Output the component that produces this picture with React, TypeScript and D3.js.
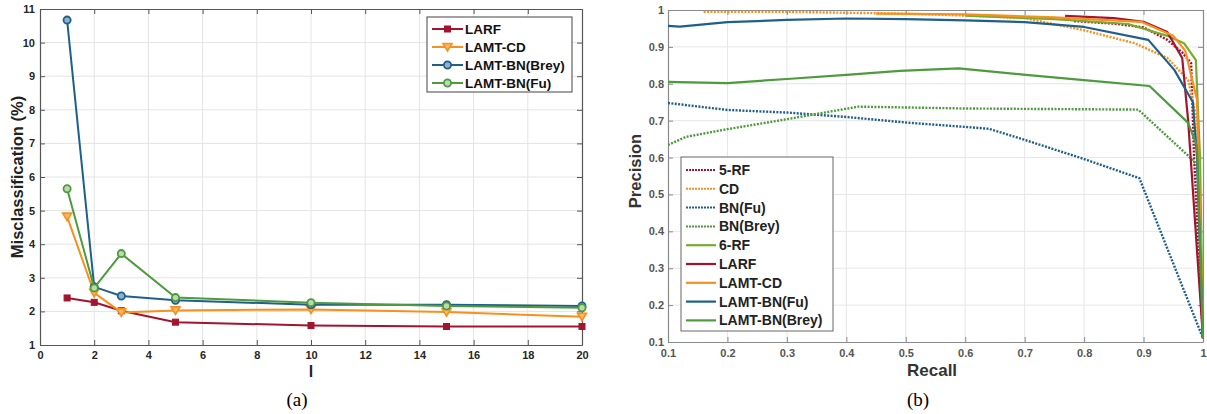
import { useEffect, useRef } from 'react';
import * as d3 from 'd3';

// ---- panel (a): misclassification vs l ----
const lValues = [1, 2, 3, 5, 10, 15, 20];
const larfMis = [2.4, 2.27, 2.02, 1.68, 1.58, 1.55, 1.55];
const lamtCdMis = [4.82, 2.55, 1.97, 2.03, 2.06, 1.98, 1.84];
const lamtBreyMis = [10.67, 2.73, 2.46, 2.33, 2.2, 2.2, 2.16];
const lamtFuMis = [5.65, 2.7, 3.72, 2.41, 2.26, 2.16, 2.11];
const leftNames = ['LARF', 'LAMT-CD', 'LAMT-BN(Brey)', 'LAMT-BN(Fu)'];
const leftXTicks = [0, 2, 4, 6, 8, 10, 12, 14, 16, 18, 20];
const leftYTicks = [1, 2, 3, 4, 5, 6, 7, 8, 9, 10, 11];

// ---- panel (b): precision vs recall ----
const rf5Recall = [0.783, 0.85, 0.9, 0.94, 0.965, 0.98, 0.985, 1.0];
const rf5Prec = [0.97, 0.963, 0.953, 0.919, 0.885, 0.856, 0.6, 0.11];
const cdRecall = [0.16, 0.3, 0.5, 0.6, 0.7, 0.8, 0.885, 0.94, 0.975, 0.99, 1.0];
const cdPrec = [0.995, 0.995, 0.99, 0.985, 0.978, 0.945, 0.91, 0.87, 0.81, 0.7, 0.11];
const bnFuRecall = [0.1, 0.2, 0.3, 0.4, 0.5, 0.6, 0.64, 0.7, 0.8, 0.893, 1.0];
const bnFuPrec = [0.748, 0.729, 0.722, 0.71, 0.695, 0.683, 0.678, 0.648, 0.596, 0.544, 0.11];
const bnBreyRecall = [0.1, 0.13, 0.2, 0.3, 0.42, 0.6, 0.891, 0.975, 0.99, 1.0];
const bnBreyPrec = [0.634, 0.656, 0.677, 0.704, 0.738, 0.733, 0.73, 0.605, 0.58, 0.11];
const rf6Recall = [0.6, 0.75, 0.874, 0.94, 0.968, 0.988, 0.995, 1.0];
const rf6Prec = [0.985, 0.975, 0.962, 0.93, 0.91, 0.864, 0.6, 0.11];
const larfRecall = [0.768, 0.85, 0.9, 0.94, 0.965, 0.975, 1.0];
const larfPrec = [0.984, 0.978, 0.968, 0.94, 0.87, 0.7, 0.11];
const lamtCdRecall = [0.45, 0.6, 0.75, 0.896, 0.95, 0.97, 0.99, 1.0];
const lamtCdPrec = [0.99, 0.988, 0.98, 0.968, 0.93, 0.89, 0.756, 0.11];
const lamtFuRecall = [0.1, 0.12, 0.2, 0.3, 0.4, 0.5, 0.6, 0.7, 0.8, 0.908, 0.952, 0.983, 0.99, 1.0];
const lamtFuPrec = [0.957, 0.955, 0.967, 0.973, 0.977, 0.975, 0.972, 0.967, 0.954, 0.919, 0.837, 0.75, 0.6, 0.11];
const lamtBreyRecall = [0.1, 0.2, 0.3, 0.4, 0.49, 0.589, 0.702, 0.8, 0.91, 0.975, 0.99, 1.0];
const lamtBreyPrec = [0.805, 0.802, 0.813, 0.824, 0.835, 0.842, 0.824, 0.81, 0.794, 0.694, 0.63, 0.11];
const rightNames = ['5-RF', 'CD', 'BN(Fu)', 'BN(Brey)', '6-RF', 'LARF', 'LAMT-CD', 'LAMT-BN(Fu)', 'LAMT-BN(Brey)'];
const rightXTicks = [0.1, 0.2, 0.3, 0.4, 0.5, 0.6, 0.7, 0.8, 0.9, 1];
const rightYTicks = [0.1, 0.2, 0.3, 0.4, 0.5, 0.6, 0.7, 0.8, 0.9, 1];

const RED = '#a2142f';
const ORANGE = '#f7901e';
const BLUE = '#1f5f8c';
const GREEN = '#4e9a3f';
const LIGHTGREEN = '#77ac30';
const FONT = '"Liberation Sans", Arial, sans-serif';

export default function App() {
  const svgRef = useRef<SVGSVGElement>(null);

  useEffect(() => {
    const svg = d3.select(svgRef.current);
    svg.selectAll('*').remove();

    // ================= left panel =================
    const lx = d3.scaleLinear().domain([0, 20]).range([40, 582]);
    const ly = d3.scaleLinear().domain([1, 11]).range([345, 9]);
    const gl = svg.append('g');

    // grid
    gl.append('g').selectAll('line.gx').data(leftXTicks.slice(1, -1)).enter().append('line')
      .attr('x1', d => lx(d)).attr('x2', d => lx(d)).attr('y1', ly(1)).attr('y2', ly(11))
      .attr('stroke', '#e4e4e4').attr('stroke-width', 1);
    gl.append('g').selectAll('line.gy').data(leftYTicks.slice(1, -1)).enter().append('line')
      .attr('y1', d => ly(d)).attr('y2', d => ly(d)).attr('x1', lx(0)).attr('x2', lx(20))
      .attr('stroke', '#e4e4e4').attr('stroke-width', 1);

    const styleAxis = (g: any, color: string, textColor: string) => {
      g.select('.domain').attr('stroke', color).attr('stroke-width', 1.2);
      g.selectAll('.tick line').attr('stroke', color);
      g.selectAll('text').style('font-family', FONT).style('font-weight', 'bold')
        .style('font-size', '11px').attr('fill', textColor);
    };

    gl.append('g').attr('transform', `translate(0,${ly(1)})`)
      .call(d3.axisBottom(lx).tickValues(leftXTicks).tickSizeInner(-5).tickSizeOuter(0).tickPadding(6))
      .call(g => styleAxis(g, '#555', '#262626'));
    gl.append('g').attr('transform', `translate(${lx(0)},0)`)
      .call(d3.axisLeft(ly).tickValues(leftYTicks).tickSizeInner(-5).tickSizeOuter(0).tickPadding(5))
      .call(g => styleAxis(g, '#555', '#262626'));
    gl.append('g').attr('transform', `translate(0,${ly(11)})`)
      .call(d3.axisTop(lx).tickValues(leftXTicks).tickSizeInner(-5).tickSizeOuter(0).tickFormat(() => ''))
      .call(g => styleAxis(g, '#555', '#262626'));
    gl.append('g').attr('transform', `translate(${lx(20)},0)`)
      .call(d3.axisRight(ly).tickValues(leftYTicks).tickSizeInner(-5).tickSizeOuter(0).tickFormat(() => ''))
      .call(g => styleAxis(g, '#555', '#262626'));

    const leftSeries = [
      { name: leftNames[0], vals: larfMis, color: RED, marker: 'square' },
      { name: leftNames[1], vals: lamtCdMis, color: ORANGE, marker: 'tri' },
      { name: leftNames[2], vals: lamtBreyMis, color: BLUE, marker: 'dotcircle' },
      { name: leftNames[3], vals: lamtFuMis, color: GREEN, marker: 'circle' },
    ];

    const drawMarker = (g: any, marker: string, color: string, x: number, y: number) => {
      if (marker === 'square') {
        g.append('rect').attr('x', x - 3).attr('y', y - 3).attr('width', 6).attr('height', 6)
          .attr('fill', color).attr('stroke', color);
      } else if (marker === 'tri') {
        g.append('path').attr('d', `M${x - 4.5},${y - 3.5}L${x + 4.5},${y - 3.5}L${x},${y + 4}Z`)
          .attr('fill', '#fbb566').attr('stroke', color).attr('stroke-width', 1.6);
      } else if (marker === 'dotcircle') {
        g.append('circle').attr('cx', x).attr('cy', y).attr('r', 3.6)
          .attr('fill', '#8fb2cc').attr('stroke', color).attr('stroke-width', 1.8);
      } else {
        g.append('circle').attr('cx', x).attr('cy', y).attr('r', 3.6)
          .attr('fill', '#b9d9ae').attr('stroke', color).attr('stroke-width', 1.8);
      }
    };

    const lineL = d3.line<number>().x((d, i) => lx(lValues[i])).y(d => ly(d));
    leftSeries.forEach(s => {
      gl.append('path').attr('d', lineL(s.vals)).attr('fill', 'none')
        .attr('stroke', s.color).attr('stroke-width', 2);
      const mg = gl.append('g');
      s.vals.forEach((v, i) => drawMarker(mg, s.marker, s.color, lx(lValues[i]), ly(v)));
    });

    // legend (a)
    const lg = gl.append('g').attr('transform', 'translate(427,17)');
    lg.append('rect').attr('width', 145).attr('height', 75).attr('fill', '#fff')
      .attr('stroke', '#444').attr('stroke-width', 1);
    leftSeries.forEach((s, i) => {
      const yy = 12 + i * 18;
      lg.append('line').attr('x1', 5).attr('x2', 36).attr('y1', yy).attr('y2', yy)
        .attr('stroke', s.color).attr('stroke-width', 2);
      drawMarker(lg, s.marker, s.color, 20.5, yy);
      lg.append('text').attr('x', 38).attr('y', yy + 5).text(s.name)
        .style('font-family', FONT).style('font-weight', 'bold').style('font-size', '13.5px').attr('fill', '#111');
    });

    gl.append('text').attr('transform', `translate(23,${ly(6)}) rotate(-90)`).attr('text-anchor', 'middle')
      .text('Misclassification (%)').style('font-family', FONT).style('font-weight', 'bold')
      .style('font-size', '16.5px').attr('fill', '#222');
    gl.append('text').attr('x', lx(10)).attr('y', 377).attr('text-anchor', 'middle').text('l')
      .style('font-family', FONT).style('font-weight', 'bold').style('font-size', '16px').attr('fill', '#222');
    gl.append('text').attr('x', 297).attr('y', 406).attr('text-anchor', 'middle').text('(a)')
      .style('font-family', '"Liberation Serif", "Times New Roman", serif').style('font-size', '19px').attr('fill', '#000');

    // ================= right panel =================
    const rx = d3.scaleLinear().domain([0.1, 1]).range([668, 1203]);
    const ry = d3.scaleLinear().domain([0.1, 1]).range([342, 10]);
    const gr = svg.append('g');

    gr.append('g').selectAll('line').data(rightXTicks.slice(1, -1)).enter().append('line')
      .attr('x1', d => rx(d)).attr('x2', d => rx(d)).attr('y1', ry(0.1)).attr('y2', ry(1))
      .attr('stroke', '#e6e6e6').attr('stroke-width', 1);
    gr.append('g').selectAll('line').data(rightYTicks.slice(1, -1)).enter().append('line')
      .attr('y1', d => ry(d)).attr('y2', d => ry(d)).attr('x1', rx(0.1)).attr('x2', rx(1))
      .attr('stroke', '#e6e6e6').attr('stroke-width', 1);

    const fmt = (d: any) => (d === 1 ? '1' : d3.format('.1f')(d));
    gr.append('g').attr('transform', `translate(0,${ry(0.1)})`)
      .call(d3.axisBottom(rx).tickValues(rightXTicks).tickFormat(fmt).tickSizeInner(-5).tickSizeOuter(0).tickPadding(7))
      .call(g => styleAxis(g, '#8a8a8a', '#555'));
    gr.append('g').attr('transform', `translate(${rx(0.1)},0)`)
      .call(d3.axisLeft(ry).tickValues(rightYTicks).tickFormat(fmt).tickSizeInner(-5).tickSizeOuter(0).tickPadding(4))
      .call(g => styleAxis(g, '#8a8a8a', '#555'));
    gr.append('g').attr('transform', `translate(0,${ry(1)})`)
      .call(d3.axisTop(rx).tickValues(rightXTicks).tickSizeInner(-5).tickSizeOuter(0).tickFormat(() => ''))
      .call(g => styleAxis(g, '#8a8a8a', '#555'));
    gr.append('g').attr('transform', `translate(${rx(1)},0)`)
      .call(d3.axisRight(ry).tickValues(rightYTicks).tickSizeInner(-5).tickSizeOuter(0).tickFormat(() => ''))
      .call(g => styleAxis(g, '#8a8a8a', '#555'));

    const rightSeries = [
      { name: rightNames[0], r: rf5Recall, p: rf5Prec, color: RED, dotted: true },
      { name: rightNames[1], r: cdRecall, p: cdPrec, color: ORANGE, dotted: true },
      { name: rightNames[2], r: bnFuRecall, p: bnFuPrec, color: BLUE, dotted: true },
      { name: rightNames[3], r: bnBreyRecall, p: bnBreyPrec, color: GREEN, dotted: true },
      { name: rightNames[4], r: rf6Recall, p: rf6Prec, color: LIGHTGREEN, dotted: false },
      { name: rightNames[5], r: larfRecall, p: larfPrec, color: RED, dotted: false },
      { name: rightNames[6], r: lamtCdRecall, p: lamtCdPrec, color: ORANGE, dotted: false },
      { name: rightNames[7], r: lamtFuRecall, p: lamtFuPrec, color: BLUE, dotted: false },
      { name: rightNames[8], r: lamtBreyRecall, p: lamtBreyPrec, color: GREEN, dotted: false },
    ];

    gr.append('clipPath').attr('id', 'rclip').append('rect')
      .attr('x', rx(0.1)).attr('y', ry(1) - 1).attr('width', rx(1) - rx(0.1) + 1).attr('height', ry(0.1) - ry(1) + 1);
    const lines = gr.append('g').attr('clip-path', 'url(#rclip)');
    rightSeries.forEach(s => {
      const ln = d3.line<number>().x(d => rx(d)).y((d, i) => ry(s.p[i]));
      lines.append('path').attr('d', ln(s.r)).attr('fill', 'none').attr('stroke', s.color)
        .attr('stroke-width', s.dotted ? 2.4 : 2.2)
        .attr('stroke-dasharray', s.dotted ? '2,1.4' : null)
        .attr('stroke-linejoin', 'round');
    });

    // legend (b)
    const rg = gr.append('g').attr('transform', 'translate(681,157)');
    rg.append('rect').attr('width', 152).attr('height', 174).attr('fill', '#fff')
      .attr('stroke', '#666').attr('stroke-width', 1);
    rightSeries.forEach((s, i) => {
      const yy = 13 + i * 18.8;
      rg.append('line').attr('x1', 5).attr('x2', 35).attr('y1', yy).attr('y2', yy)
        .attr('stroke', s.color).attr('stroke-width', s.dotted ? 2 : 2.2)
        .attr('stroke-dasharray', s.dotted ? '2,1' : null);
      rg.append('text').attr('x', 38).attr('y', yy + 5).text(s.name)
        .style('font-family', FONT).style('font-weight', 'bold').style('font-size', '14px').attr('fill', '#222');
    });

    gr.append('text').attr('transform', `translate(641,171) rotate(-90)`).attr('text-anchor', 'middle')
      .text('Precision').style('font-family', FONT).style('font-weight', 'bold')
      .style('font-size', '16.5px').attr('fill', '#333');
    gr.append('text').attr('x', 907).attr('y', 376).text('Recall')
      .style('font-family', FONT).style('font-weight', 'bold').style('font-size', '17px').attr('fill', '#333');
    gr.append('text').attr('x', 918).attr('y', 406).attr('text-anchor', 'middle').text('(b)')
      .style('font-family', '"Liberation Serif", "Times New Roman", serif').style('font-size', '19px').attr('fill', '#000');
  }, []);

  return (
    <div style={{ position: 'absolute', left: 0, top: 0 }}>
      <svg ref={svgRef} width={1207} height={414} style={{ display: 'block', background: '#fff' }} />
    </div>
  );
}
